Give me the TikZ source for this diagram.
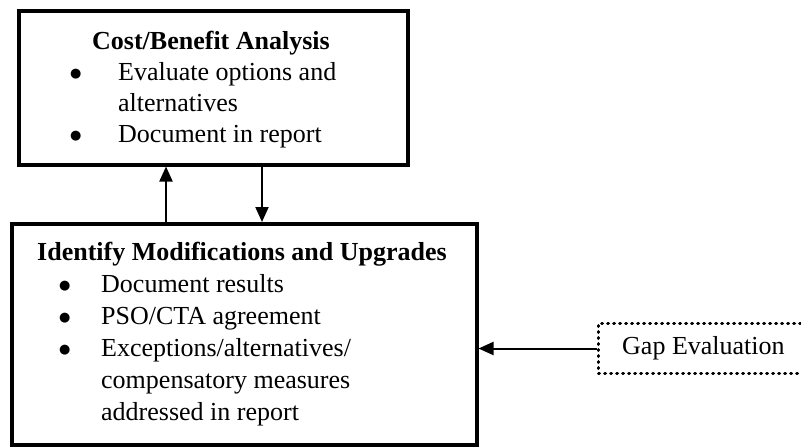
\documentclass[tikz,border=0pt]{standalone}
\usepackage{fontspec}
\setmainfont{Liberation Serif}
\newfontfamily\symfont{DejaVu Sans}
\usetikzlibrary{arrows.meta}
\newcommand{\bigdot}{\raisebox{3pt}{\symfont\fontsize{13}{13}\selectfont ●}}
\begin{document}
\begin{tikzpicture}[x=1pt,y=-1pt,
  box/.style={draw, line width=3.5pt, inner sep=0pt, anchor=north west},
  gapbox/.style={draw, line width=3pt, line cap=round,
    dash pattern=on 1pt off 5pt, inner sep=0pt, anchor=north west},
  heading/.style={inner sep=0pt, anchor=base,
    font=\fontsize{26}{31}\selectfont\bfseries},
  listtext/.style={inner sep=0pt, anchor=base west},
  link/.style={line width=2pt, -{Triangle[length=15pt,width=13pt]}},
]
\useasboundingbox (0,0) rectangle (801,447);
\clip (0,0) rectangle (801,447);
\fill[white] (0,0) rectangle (801,447);

% upper box
\node[box, minimum width=389pt, minimum height=154pt] (cba) at (17,9) {};
\node[heading] (cbaTitle) at (211,49) {Cost/Benefit Analysis};
\node[listtext] (cbaList) at (70,80) {\fontsize{26}{31}\selectfont
  \begin{tabular}[t]{@{}p{48pt}@{}l@{}}
  \bigdot & Evaluate options and\\
          & alternatives\\
  \bigdot & Document in report
  \end{tabular}};

% lower box
\node[box, minimum width=465pt, minimum height=221pt] (imu) at (10,222) {};
\node[heading] (imuTitle) at (242,260) {Identify Modifications and Upgrades};
\node[listtext] (imuList) at (59,292) {\fontsize{26}{32}\selectfont
  \begin{tabular}[t]{@{}p{42pt}@{}l@{}}
  \bigdot & Document results\\
  \bigdot & PSO/CTA agreement\\
  \bigdot & Exceptions/alternatives/\\
          & compensatory measures\\
          & addressed in report
  \end{tabular}};

% dotted side box
\node[gapbox, minimum width=220pt, minimum height=50pt] (gap) at (597,322) {};
\node[listtext] (gapText) at (622,354) {\fontsize{26}{31}\selectfont Gap Evaluation};

% connectors
\coordinate (upx) at (166,0);
\coordinate (downx) at (262,0);
\draw[link] (imu.north -| upx) -- (cba.south -| upx);
\draw[link] (cba.south -| downx) -- (imu.north -| downx);
\draw[link] (gap.west) -- (gap.west -| imu.east);
\end{tikzpicture}
\end{document}
